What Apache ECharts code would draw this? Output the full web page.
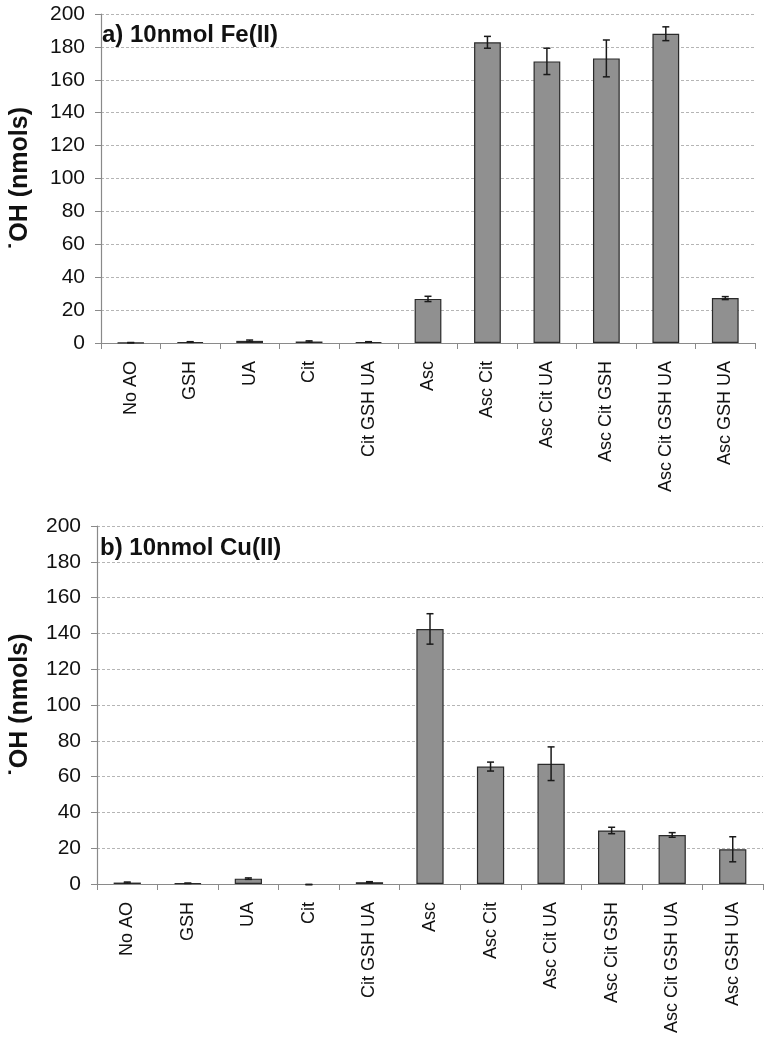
<!DOCTYPE html>
<html>
<head>
<meta charset="utf-8">
<script src="https://cdn.jsdelivr.net/npm/echarts@6/dist/echarts.min.js"></script>
<style>
html,body{margin:0;padding:0;background:#fff;}
#chart{width:775px;height:1050px;}
</style>
</head>
<body>
<div id="chart"></div>
<script>
const categories = ['No AO','GSH','UA','Cit','Cit GSH UA','Asc','Asc Cit','Asc Cit UA','Asc Cit GSH','Asc Cit GSH UA','Asc GSH UA'];
const feValues = [0.2, 0.6, 1.3, 0.9, 0.6, 26.8, 182.8, 171.2, 173.0, 188.0, 27.3];
const feErrors = [0.1, 0.2, 0.5, 0.4, 0.2, 1.6, 3.6, 8.0, 11.2, 4.2, 0.9];
const cuValues = [0.8, 0.4, 3.0, -0.3, 1.0, 142.5, 65.6, 67.2, 29.9, 27.4, 19.4];
const cuErrors = [0.3, 0.1, 0.4, 0.1, 0.3, 8.5, 2.5, 9.4, 1.8, 1.3, 7.0];
const yTicks = [0, 20, 40, 60, 80, 100, 120, 140, 160, 180, 200];
const titles = ['a) 10nmol Fe(II)', 'b) 10nmol Cu(II)'];
const yName = '\u02D9OH (nmols)';

const FONT = '"Liberation Sans", Arial, sans-serif';
const chart = echarts.init(document.getElementById('chart'));

function errData(vals, errs) {
  return vals.map((v, i) => [i, v - errs[i], v + errs[i]]);
}
function errRender(params, api) {
  const i = api.value(0);
  const lo = api.coord([i, api.value(1)]);
  const hi = api.coord([i, api.value(2)]);
  const w = 3.5;
  const st = { stroke: '#1a1a1a', lineWidth: 1.5 };
  return {
    type: 'group',
    children: [
      { type: 'line', shape: { x1: hi[0], y1: hi[1], x2: lo[0], y2: lo[1] }, style: st },
      { type: 'line', shape: { x1: hi[0] - w, y1: hi[1], x2: hi[0] + w, y2: hi[1] }, style: st },
      { type: 'line', shape: { x1: lo[0] - w, y1: lo[1], x2: lo[0] + w, y2: lo[1] }, style: st }
    ]
  };
}

function xAxis(gi) {
  return {
    type: 'category', gridIndex: gi, data: categories,
    axisLine: { lineStyle: { color: '#8a8a8a', width: 1.2 } },
    axisTick: { show: true, length: 6, lineStyle: { color: '#8a8a8a' } },
    axisLabel: { rotate: 90, margin: 18, fontSize: 18, color: '#111', fontFamily: FONT },
    splitLine: { show: false }
  };
}
function yAxis(gi, gap) {
  return {
    type: 'value', gridIndex: gi, min: yTicks[0], max: yTicks[yTicks.length - 1], interval: yTicks[1] - yTicks[0],
    name: yName, nameLocation: 'middle', nameGap: gap, nameRotate: 90,
    nameTextStyle: { fontSize: 25, fontWeight: 'bold', color: '#111', fontFamily: FONT },
    axisLine: { show: true, lineStyle: { color: '#8a8a8a', width: 1.2 } },
    axisTick: { show: true, length: 6, lineStyle: { color: '#8a8a8a' } },
    axisLabel: { fontSize: 21, color: '#111', margin: 16, fontFamily: FONT },
    splitLine: { show: true, lineStyle: { color: '#b5b5b5', type: [3, 2], width: 1 } }
  };
}
function barSeries(gi, vals) {
  return {
    type: 'bar', xAxisIndex: gi, yAxisIndex: gi, data: vals, barWidth: '45%',
    itemStyle: { color: '#909090', borderColor: '#2a2a2a', borderWidth: 1.2 },
    silent: true, z: 2
  };
}
function errSeries(gi, vals, errs) {
  return {
    type: 'custom', xAxisIndex: gi, yAxisIndex: gi, data: errData(vals, errs),
    renderItem: errRender, z: 5, silent: true
  };
}

chart.setOption({
  animation: false,
  backgroundColor: '#fff',
  title: [
    { text: titles[0], left: 97, top: 18, textStyle: { fontSize: 24, fontWeight: 'bold', color: '#111', fontFamily: FONT } },
    { text: titles[1], left: 95, top: 531, textStyle: { fontSize: 24, fontWeight: 'bold', color: '#111', fontFamily: FONT } }
  ],
  grid: [
    { left: 91, top: 14, width: 664, height: 329 },
    { left: 87, top: 526, width: 676, height: 358 }
  ],
  xAxis: [xAxis(0), xAxis(1)],
  yAxis: [yAxis(0, 68), yAxis(1, 64)],
  series: [
    barSeries(0, feValues), errSeries(0, feValues, feErrors),
    barSeries(1, cuValues), errSeries(1, cuValues, cuErrors)
  ]
});
</script>
</body>
</html>
